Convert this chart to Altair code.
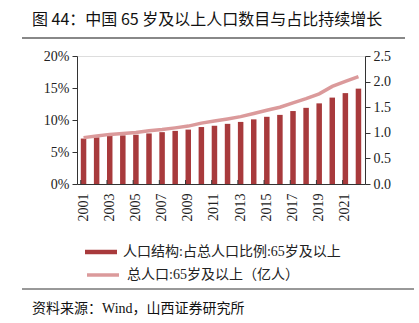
import altair as alt
import pandas as pd

years = [str(y) for y in range(2001, 2023)]
share = [7.1, 7.3, 7.5, 7.6, 7.7, 7.9, 8.1, 8.3, 8.5, 8.9, 9.1, 9.4, 9.7, 10.1, 10.5, 10.8, 11.4, 11.9, 12.6, 13.5, 14.2, 14.9]
pop = [0.906, 0.938, 0.969, 0.986, 1.006, 1.042, 1.064, 1.096, 1.131, 1.189, 1.229, 1.271, 1.316, 1.376, 1.439, 1.500, 1.583, 1.666, 1.760, 1.906, 2.006, 2.098]
tick_years = [str(y) for y in range(2001, 2023, 2)]

bar_name = "人口结构:占总人口比例:65岁及以上"
line_name = "总人口:65岁及以上（亿人）"
title_text = "图 44：中国 65 岁及以上人口数目与占比持续增长"
source_text = "资料来源：Wind，山西证券研究所"

df = pd.DataFrame({"year": years, "share": [s / 100 for s in share], "pop": pop,
                   "bn": bar_name, "ln": line_name})
tdf = pd.DataFrame({"year": tick_years})

FONT = "Liberation Serif, Noto Sans CJK SC"
BAR = "#A83A3C"
LINE = "#DB9A9B"

xscale = alt.Scale(paddingInner=0.58, paddingOuter=0.29)
xenc = alt.X("year:O", title=None, scale=xscale,
             axis=alt.Axis(values=tick_years, labelAngle=-90, labelFont=FONT, labelFontSize=14,
                           labelColor="#222", domainColor="#333", ticks=False,
                           labelPadding=9, labelBaseline="middle", labelAlign="right"))

bars = alt.Chart(df).mark_bar(color=BAR).encode(
    x=xenc,
    y=alt.Y("share:Q", title=None,
            scale=alt.Scale(domain=[0, 0.2]),
            axis=alt.Axis(values=[0, 0.05, 0.1, 0.15, 0.2], format=".0%", labelFont=FONT,
                          labelFontSize=14, labelColor="#222", domainColor="#333",
                          tickColor="#333", tickSize=5, grid=False, labelPadding=3)),
    fill=alt.Fill("bn:N", scale=alt.Scale(domain=[bar_name], range=[BAR]),
                  legend=alt.Legend(title=None, orient="none", legendX=8, legendY=180,
                                    symbolType="M-1,-0.14H1V0.14H-1Z", symbolSize=1024,
                                    symbolStrokeWidth=0, labelFont=FONT, labelFontSize=14,
                                    labelColor="#222", labelOffset=6, labelLimit=400)),
)

xticks = alt.Chart(tdf).mark_rule(color="#333", strokeWidth=1).encode(
    x=alt.X("year:O", bandPosition=0),
    y=alt.value(128), y2=alt.value(124))

line = alt.Chart(df).mark_line(strokeWidth=3.5).encode(
    x=alt.X("year:O"),
    y=alt.Y("pop:Q", title=None,
            scale=alt.Scale(domain=[0, 2.5]),
            axis=alt.Axis(orient="right", values=[0, 0.5, 1.0, 1.5, 2.0, 2.5], format=".1f",
                          labelFont=FONT, labelFontSize=14, labelColor="#222",
                          domainColor="#333", tickColor="#333", tickSize=5, grid=False,
                          labelPadding=3)),
    stroke=alt.Stroke("ln:N", scale=alt.Scale(domain=[line_name], range=[LINE]),
                      legend=alt.Legend(title=None, orient="none", legendX=8, legendY=201,
                                        symbolType="stroke", symbolSize=1024,
                                        symbolStrokeWidth=3.5, labelFont=FONT, labelFontSize=14,
                                        labelColor="#222", labelOffset=6, labelLimit=400)),
)

deco_df = pd.DataFrame({"t": [title_text], "s": [source_text]})
title_mark = alt.Chart(deco_df).mark_text(align="left", baseline="middle", font="Noto Sans CJK SC",
                                          fontSize=16, color="#111").encode(
    text="t:N", x=alt.value(-45), y=alt.value(-36))
title_rule = alt.Chart(deco_df).mark_rule(color="#888", strokeWidth=2).encode(
    x=alt.value(-55), x2=alt.value(328), y=alt.value(-18))
source_rule = alt.Chart(deco_df).mark_rule(color="#333", strokeWidth=1).encode(
    x=alt.value(-55), x2=alt.value(337), y=alt.value(233))
source_mark = alt.Chart(deco_df).mark_text(align="left", baseline="middle", font=FONT,
                                           fontSize=14, color="#111").encode(
    text="s:N", x=alt.value(-45), y=alt.value(253))

chart = alt.layer(bars, xticks, line, title_mark, title_rule, source_rule, source_mark).resolve_scale(
    y="independent", fill="independent", stroke="independent"
).properties(
    width=288, height=128,
    autosize=alt.AutoSizeParams(type="none"),
    padding={"left": 77, "top": 56, "right": 54, "bottom": 139},
).configure_view(stroke=None).configure(background="white")

chart.save("out.html", embed_options={"renderer": "svg", "actions": False})
